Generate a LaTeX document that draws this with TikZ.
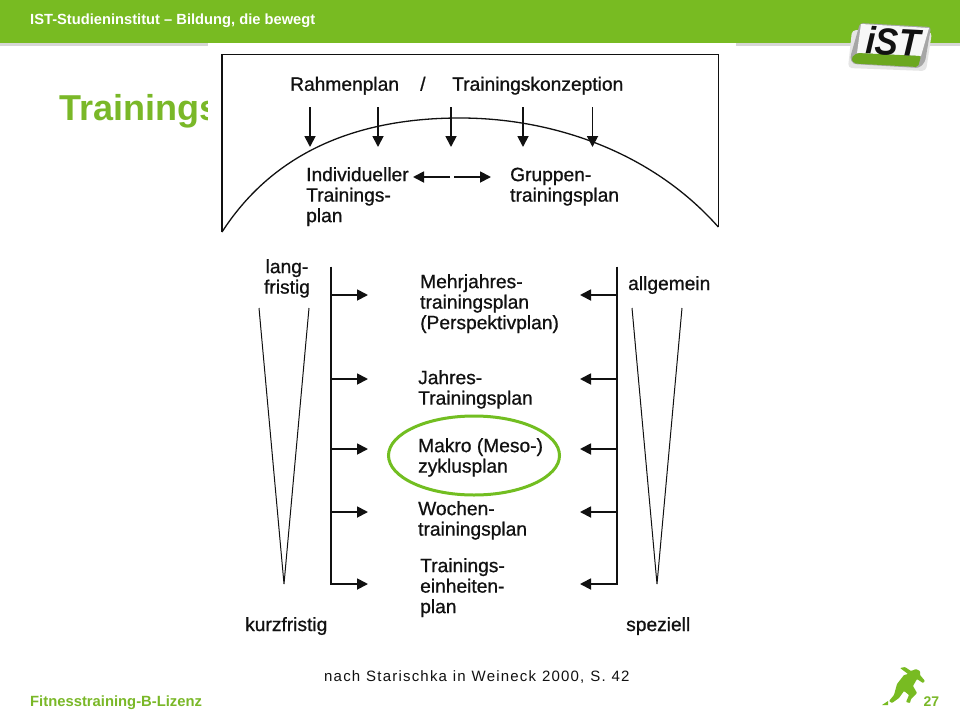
\documentclass[tikz,border=0pt]{standalone}
\usepackage{fontspec}
\setmainfont{Liberation Sans}
\newfontfamily\srcfont[LetterSpace=8,WordSpace=1.1]{Liberation Sans}
\newfontfamily\labfont[FakeBold=0.8]{Liberation Sans}
\usetikzlibrary{arrows.meta}
\definecolor{istgreen}{HTML}{78BB22}
\definecolor{titlegreen}{HTML}{7AB828}
\definecolor{ovalgreen}{HTML}{72BE21}
\definecolor{inkc}{HTML}{111111}
\tikzset{
  x=1pt,y=-1pt,
  lab/.style={anchor=north west,inner sep=0pt,align=left,text=inkc,font=\labfont\fontsize{19.2}{20.5}\selectfont},
  line/.style={draw=inkc,line width=1.3pt},
  thin line/.style={draw=inkc,line width=1pt},
  arr/.style={draw=inkc,line width=1.8pt,-{Triangle[length=11pt,width=11pt]}},
}
\begin{document}
\begin{tikzpicture}
\useasboundingbox (0,0) rectangle (960,720);
\fill[white] (0,0) rectangle (960,720);
% header
\fill[black!16] (0,43) rectangle (960,45.5);
\fill[istgreen] (0,0) rectangle (960,43);
\node[anchor=base west,inner sep=0pt,text=white,font=\fontsize{14.7}{16}\selectfont\bfseries] (head) at (30,24.5) {IST-Studieninstitut – Bildung, die bewegt};
% title
\node[anchor=base west,inner sep=0pt,text=titlegreen,font=\fontsize{36}{38}\selectfont\bfseries] (title) at (59,120) {Trainings};
\fill[white] (208,43) rectangle (736,240);
% logo
\fill[black!10,rounded corners=4pt] (852,30) -- (932,32) -- (926,71) -- (848,68) -- cycle;
\fill[black!35,rounded corners=3pt] (860,23) -- (931,27) -- (925,62) -- (919,68) -- (853,64) -- (850,58) -- cycle;
\fill[black!3] (861,24) -- (929,28) -- (921,56) -- (857,53) -- cycle;
\fill[istgreen!90!black,rounded corners=2pt] (857,53) -- (921,56) -- (918,67) -- (854,63.5) -- (851,58) -- cycle;
\node[inkc,inner sep=0pt,rotate=-3,xscale=.92,font=\fontsize{38}{38}\selectfont\bfseries\itshape] (logo) at (893,41.5) {iST};
% upper box
\draw[line] (222,232) -- (222,54.5) -- (718.3,54.5) -- (718.3,227);
\draw[line] (222,232) .. controls (275,150) and (360,118) .. (460,118) .. controls (550,118) and (650,150) .. (718.3,227);
\node[lab,anchor=base west] (rp) at (290,90.7) {Rahmenplan};
\node[lab,anchor=base west] (sl) at (420,90.7) {/};
\node[lab,anchor=base west] (tk) at (452,90.7) {Trainingskonzeption};
\coordinate (a1s) at (310,107); \coordinate (a1e) at (310,147);
\coordinate (a2s) at (378,107); \coordinate (a2e) at (378,147);
\coordinate (a3s) at (451,107); \coordinate (a3e) at (451,147);
\coordinate (a4s) at (523,107); \coordinate (a4e) at (523,147);
\coordinate (a5s) at (592.5,107); \coordinate (a5e) at (592.5,147);
\foreach \i in {1,...,5} \draw[arr] (a\i s) -- (a\i e);
\node[lab] (ind) at (306,167) {Individueller\\Trainings-\\plan};
\node[lab] (grp) at (510,167.5) {Gruppen-\\trainingsplan};
\coordinate (m1) at (450,177); \coordinate (m2) at (454,177);
\draw[arr] (m1) -- (413,177);
\draw[arr] (m2) -- (491,177);
% lower part
\node[lab,align=center,anchor=north] (lang) at (287,259) {lang-\\fristig};
\node[lab,anchor=base west] (kurz) at (245,631) {kurzfristig};
\node[lab,anchor=base west] (allg) at (628,290) {allgemein};
\node[lab,anchor=base west] (spez) at (626,631) {speziell};
\draw[thin line] (259,308) -- (284,584) -- (309,308);
\draw[thin line] (632,308) -- (657,584) -- (682,308);
\draw[line] (331,266.5) -- (331,584.6);
\draw[line] (617,266.5) -- (617,584.6);
\foreach \i/\y in {1/295,2/379,3/449,4/512,5/584}{
  \coordinate (l\i) at (331,\y); \coordinate (le\i) at (368,\y);
  \coordinate (r\i) at (617,\y); \coordinate (re\i) at (580,\y);
  \draw[arr] (l\i) -- (le\i);
  \draw[arr] (r\i) -- (re\i);
}
\node[lab] (mj) at (420,274) {Mehrjahres-\\trainingsplan\\(Perspektivplan)};
\node[lab] (jt) at (418,370) {Jahres-\\Trainingsplan};
\node[lab] (mk) at (418,438) {Makro (Meso-)\\zyklusplan};
\node[lab] (wt) at (418,501) {Wochen-\\trainingsplan};
\node[lab] (te) at (420,558) {Trainings-\\einheiten-\\plan};
\draw[ovalgreen,line width=3pt] (474,455.5) ellipse [x radius=85.5,y radius=39.5];
% footer
\node[anchor=base west,inner sep=0pt,text=inkc,font=\srcfont\fontsize{15}{16}\selectfont] (src) at (324,681.5) {nach Starischka in Weineck 2000, S. 42};
\node[anchor=base west,inner sep=0pt,text=titlegreen,font=\fontsize{14.8}{16}\selectfont\bfseries] (foot) at (30,706) {Fitnesstraining-B-Lizenz};
\node[anchor=base west,inner sep=0pt,text=titlegreen,font=\fontsize{14}{15}\selectfont\bfseries] (pg) at (923.5,706) {27};
% runner
\fill[istgreen,rounded corners=.8pt] (900,668) -- (905,667) -- (911,671) -- (916,669) -- (920,671) -- (920,675) -- (925,681) -- (923,683) -- (917,679) -- (913,686) -- (917,693) -- (911,699) -- (910,703) -- (906,702) -- (909,695) -- (904,691) -- (899,698) -- (892,703) -- (889,701) -- (894,695) -- (897,684) -- (904,675) -- (908,674) -- (904,671) -- cycle;
\fill[istgreen] (882,705) -- (888,701) -- (888,705) -- cycle;
\end{tikzpicture}
\end{document}
